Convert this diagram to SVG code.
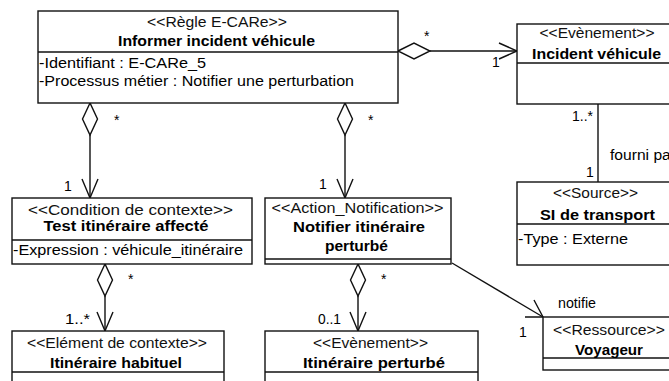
<svg xmlns="http://www.w3.org/2000/svg" width="669" height="381" viewBox="0 0 669 381">
<style>
text{font-family:"Liberation Sans",Arial,sans-serif;font-size:14px;fill:#000}
.st{fill:#111}
.b{font-weight:bold}
.box{fill:#fff;stroke:#111;stroke-width:1.4}
.ln{fill:none;stroke:#111;stroke-width:1.4}
.dia{fill:#fff;stroke:#111;stroke-width:1.4}
.lbl{font-size:14px}
</style>
<rect width="669" height="381" fill="#fff"/>
<g id="connectors">
  <polygon class="dia" points="90,103 82.5,119 90,135 97.5,119"/>
  <line class="ln" x1="90" y1="135" x2="90" y2="198"/>
  <polyline class="ln" points="82,179 90,198 98,179"/>
  <text class="lbl" x="114" y="125">*</text>
  <text class="lbl" x="64" y="191">1</text>
  <polygon class="dia" points="345,103 337.5,119 345,135 352.5,119"/>
  <line class="ln" x1="345" y1="135" x2="345" y2="198"/>
  <polyline class="ln" points="337,179 345,198 353,179"/>
  <text class="lbl" x="368" y="125">*</text>
  <text class="lbl" x="319" y="189">1</text>
  <polygon class="dia" points="398,51 414,43 430,51 414,59"/>
  <line class="ln" x1="430" y1="51" x2="517" y2="51"/>
  <polyline class="ln" points="499,43 517,51 499,59"/>
  <text class="lbl" x="424" y="41">*</text>
  <text class="lbl" x="492" y="67">1</text>
  <line class="ln" x1="598" y1="104" x2="598" y2="182"/>
  <text class="lbl" x="572" y="121" textLength="21" lengthAdjust="spacingAndGlyphs">1..*</text>
  <text class="lbl" x="610" y="160" textLength="66" lengthAdjust="spacingAndGlyphs">fourni par</text>
  <text class="lbl" x="586" y="177">1</text>
  <polygon class="dia" points="105,264 97.5,280 105,296 112.5,280"/>
  <line class="ln" x1="105" y1="296" x2="105" y2="331"/>
  <polyline class="ln" points="97,312 105,331 113,312"/>
  <text class="lbl" x="128" y="284">*</text>
  <text class="lbl" x="65" y="324" textLength="25" lengthAdjust="spacingAndGlyphs">1..*</text>
  <polygon class="dia" points="358,264 350.5,280 358,296 365.5,280"/>
  <line class="ln" x1="358" y1="296" x2="358" y2="331"/>
  <polyline class="ln" points="350,312 358,331 366,312"/>
  <text class="lbl" x="381" y="284">*</text>
  <text class="lbl" x="318" y="324" textLength="23" lengthAdjust="spacingAndGlyphs">0..1</text>
  <line class="ln" x1="452" y1="263" x2="543" y2="317"/>
  <polyline class="ln" points="534,300 543,317 525,317"/>
  <text class="lbl" x="558" y="308" textLength="38" lengthAdjust="spacingAndGlyphs">notifie</text>
  <text class="lbl" x="519" y="337">1</text>
</g>
<g id="regle">
  <rect class="box" x="38" y="11" width="360" height="92"/>
  <line class="ln" x1="38" y1="52" x2="398" y2="52"/>
  <text class="st" x="217" y="27" text-anchor="middle" textLength="140" lengthAdjust="spacingAndGlyphs">&lt;&lt;Règle E-CARe&gt;&gt;</text>
  <text class="b" x="216.5" y="46" text-anchor="middle" textLength="197" lengthAdjust="spacingAndGlyphs">Informer incident véhicule</text>
  <text x="39" y="68" textLength="167" lengthAdjust="spacingAndGlyphs">-Identifiant : E-CARe_5</text>
  <text x="39" y="86" textLength="315" lengthAdjust="spacingAndGlyphs">-Processus métier : Notifier une perturbation</text>
</g>
<g id="incident">
  <rect class="box" x="517" y="24" width="165" height="80"/>
  <line class="ln" x1="517" y1="63" x2="682" y2="63"/>
  <text class="st" x="597" y="38" text-anchor="middle" textLength="115" lengthAdjust="spacingAndGlyphs">&lt;&lt;Evènement&gt;&gt;</text>
  <text class="b" x="596.5" y="59" text-anchor="middle" textLength="129" lengthAdjust="spacingAndGlyphs">Incident véhicule</text>
</g>
<g id="source">
  <rect class="box" x="517" y="182" width="165" height="83"/>
  <line class="ln" x1="517" y1="224" x2="682" y2="224"/>
  <text class="st" x="595.5" y="198" text-anchor="middle" textLength="85" lengthAdjust="spacingAndGlyphs">&lt;&lt;Source&gt;&gt;</text>
  <text class="b" x="597.5" y="220" text-anchor="middle" textLength="115" lengthAdjust="spacingAndGlyphs">SI de transport</text>
  <text x="518" y="244" textLength="110" lengthAdjust="spacingAndGlyphs">-Type : Externe</text>
</g>
<g id="condition">
  <rect class="box" x="12" y="198" width="240" height="66"/>
  <line class="ln" x1="12" y1="240" x2="252" y2="240"/>
  <text class="st" x="130.5" y="215" text-anchor="middle" textLength="205" lengthAdjust="spacingAndGlyphs">&lt;&lt;Condition de contexte&gt;&gt;</text>
  <text class="b" x="126" y="231" text-anchor="middle" textLength="165" lengthAdjust="spacingAndGlyphs">Test itinéraire affecté</text>
  <text x="13" y="255" textLength="230" lengthAdjust="spacingAndGlyphs">-Expression : véhicule_itinéraire</text>
</g>
<g id="action">
  <rect class="box" x="265" y="198" width="186" height="66"/>
  <line class="ln" x1="265" y1="259" x2="451" y2="259"/>
  <text class="st" x="357.5" y="213" text-anchor="middle" textLength="172" lengthAdjust="spacingAndGlyphs">&lt;&lt;Action_Notification&gt;&gt;</text>
  <text class="b" x="359" y="232" text-anchor="middle" textLength="132" lengthAdjust="spacingAndGlyphs">Notifier itinéraire</text>
  <text class="b" x="356.5" y="251" text-anchor="middle" textLength="63" lengthAdjust="spacingAndGlyphs">perturbé</text>
</g>
<g id="element">
  <rect class="box" x="12" y="331" width="212" height="60"/>
  <line class="ln" x1="12" y1="372" x2="224" y2="372"/>
  <text class="st" x="117" y="348" text-anchor="middle" textLength="180" lengthAdjust="spacingAndGlyphs">&lt;&lt;Elément de contexte&gt;&gt;</text>
  <text class="b" x="116" y="368" text-anchor="middle" textLength="132" lengthAdjust="spacingAndGlyphs">Itinéraire habituel</text>
</g>
<g id="perturbe">
  <rect class="box" x="265" y="331" width="213" height="60"/>
  <line class="ln" x1="265" y1="372" x2="478" y2="372"/>
  <text class="st" x="370.5" y="348" text-anchor="middle" textLength="115" lengthAdjust="spacingAndGlyphs">&lt;&lt;Evènement&gt;&gt;</text>
  <text class="b" x="374" y="368" text-anchor="middle" textLength="142" lengthAdjust="spacingAndGlyphs">Itinéraire perturbé</text>
</g>
<g id="voyageur">
  <rect class="box" x="543" y="317" width="133" height="53"/>
  <line class="ln" x1="543" y1="358" x2="676" y2="358"/>
  <text class="st" x="609" y="335" text-anchor="middle" textLength="112" lengthAdjust="spacingAndGlyphs">&lt;&lt;Ressource&gt;&gt;</text>
  <text class="b" x="609" y="355" text-anchor="middle" textLength="68" lengthAdjust="spacingAndGlyphs">Voyageur</text>
</g>
</svg>
